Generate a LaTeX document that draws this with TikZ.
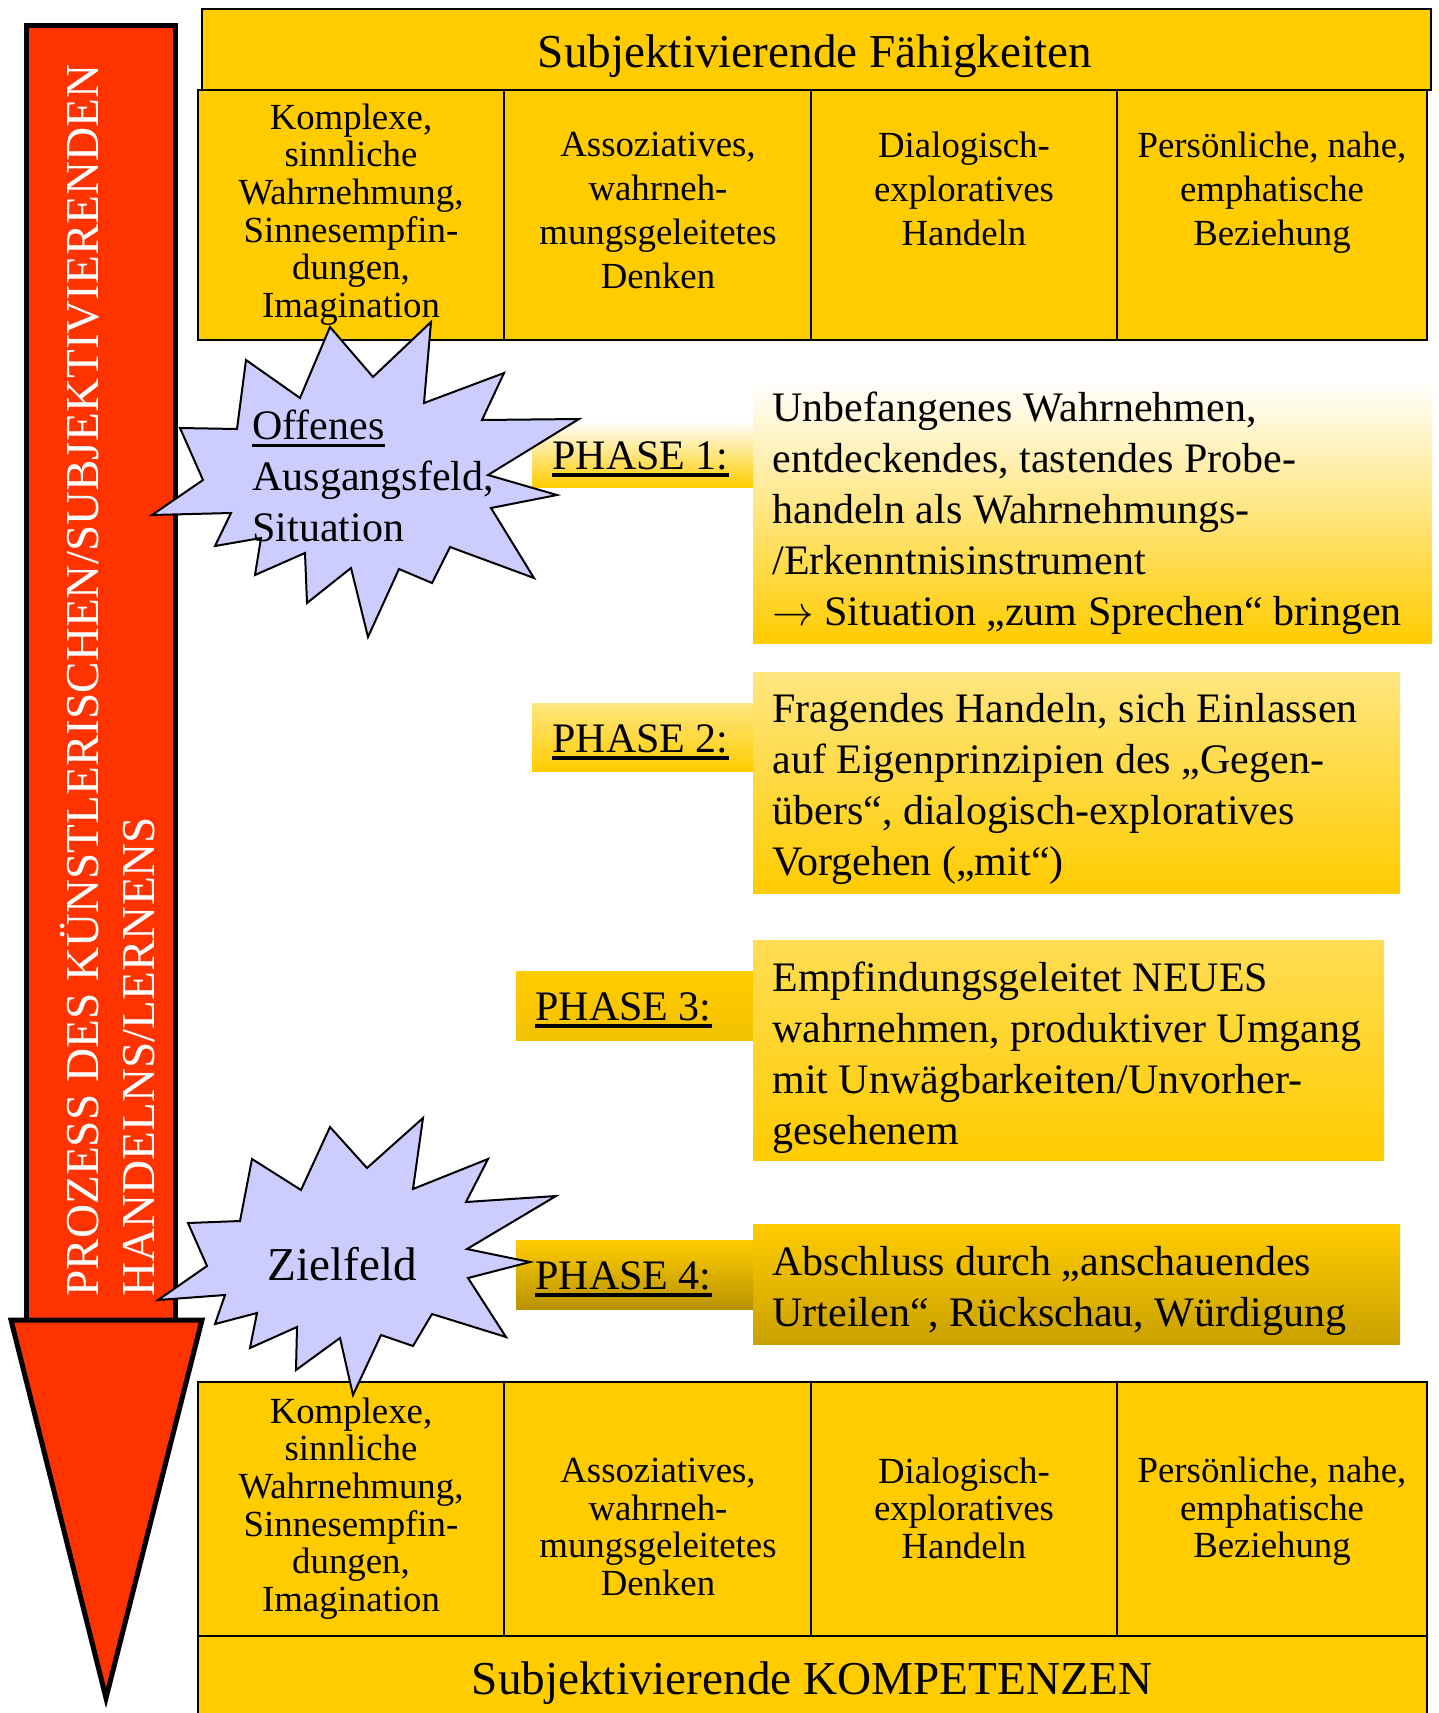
\documentclass[tikz,border=0pt]{standalone}
\usepackage{fontspec}
\setmainfont{Liberation Serif}
\definecolor{yel}{HTML}{FFCC00}
\definecolor{redA}{HTML}{FF3300}
\definecolor{lav}{HTML}{CCCCFF}
\definecolor{yelL}{HTML}{FFE680}
\definecolor{yelM}{HTML}{FFDD55}
\definecolor{yelD}{HTML}{F2C200}
\definecolor{gold}{HTML}{C9A100}
\definecolor{goldD}{HTML}{B89300}
\newcommand{\ulx}[1]{\leavevmode\setbox0\hbox{#1}\rlap{\vrule height -0.1em depth 0.18em width \wd0}\box0}
\begin{document}
\begin{tikzpicture}[x=0.5pt,y=-0.5pt,
  box/.style={draw=black, line width=1pt, fill=yel},
  sep/.style={draw=black, line width=1pt},
  cellA/.style={align=center, inner sep=0pt, font=\fontsize{18.4}{22}\selectfont},
  cellB/.style={align=center, inner sep=0pt, font=\fontsize{18.4}{18.8}\selectfont},
  head/.style={inner sep=0pt, font=\fontsize{23.6}{28}\selectfont},
  ptext/.style={align=left, inner sep=0pt, anchor=west, font=\fontsize{21}{25.5}\selectfont},
  plabel/.style={inner sep=0pt, anchor=west, font=\fontsize{21}{25.5}\selectfont},
  burst/.style={draw=black, line width=1pt, fill=lav, line join=miter},
  arrowbody/.style={draw=black, fill=redA, line width=2.5pt, line join=miter},
]
\useasboundingbox (0,0) rectangle (1439,1713);
\fill[white] (0,0) rectangle (1439,1713);

% process arrow
\draw[arrowbody] (26.5,25) rectangle (175.5,1320);
\draw[arrowbody] (11,1320) -- (202,1320) -- (106,1698) -- cycle;
\node[rotate=90, anchor=south west, align=left, inner sep=0pt, text=white,
      font=\fontsize{23.6}{28}\selectfont] (proc) at (155.5,1297)
  {PROZESS DES KÜNSTLERISCHEN/SUBJEKTIVIERENDEN\\HANDELNS/LERNENS};

% top table
\draw[box] (202,9) rectangle (1431,90);
\node[head] (tophead) at (815,56) {Subjektivierende Fähigkeiten};
\draw[box] (198,90) rectangle (1427,340);
\draw[sep] (504,90) -- (504,340) (811,90) -- (811,340) (1117,90) -- (1117,340);
\node[cellB] (t1) at (351,214.5) {Komplexe,\\sinnliche\\Wahrnehmung,\\Sinnesempfin-\\dungen,\\Imagination};
\node[cellA] (t2) at (658,210) {Assoziatives,\\wahrneh-\\mungsgeleitetes\\Denken};
\node[cellA] (t3) at (964,188.5) {Dialogisch-\\exploratives\\Handeln};
\node[cellA] (t4) at (1272,192.5) {Persönliche, nahe,\\emphatische\\Beziehung};

% bottom table
\draw[box] (198,1382) rectangle (1427,1636);
\draw[box] (198,1636) rectangle (1427,1720);
\draw[sep] (504,1382) -- (504,1636) (811,1382) -- (811,1636) (1117,1382) -- (1117,1636);
\node[cellB] (b1) at (351,1508.5) {Komplexe,\\sinnliche\\Wahrnehmung,\\Sinnesempfin-\\dungen,\\Imagination};
\node[cellB] (b2) at (658,1527) {Assoziatives,\\wahrneh-\\mungsgeleitetes\\Denken};
\node[cellB] (b3) at (964,1508) {Dialogisch-\\exploratives\\Handeln};
\node[cellB] (b4) at (1272,1511.5) {Persönliche, nahe,\\emphatische\\Beziehung};
\node[head] (bothead) at (812,1683.5) {Subjektivierende KOMPETENZEN};

% phase boxes
\shade[top color=white, bottom color=yel] (753,380) rectangle (1432,643);
\shade[top color=white, bottom color=yel] (532,421) rectangle (753,487);
\shade[top color=yelL, bottom color=yel] (753,672) rectangle (1400,893);
\shade[top color=yelL, bottom color=yel] (532,703) rectangle (753,771);
\shade[top color=yelM, bottom color=yel] (753,940) rectangle (1384,1160);
\shade[top color=yel, bottom color=yelD] (516,971) rectangle (753,1040);
\shade[top color=yel, bottom color=gold] (753,1224) rectangle (1400,1344);
\shade[top color=yel, bottom color=goldD] (516,1240) rectangle (753,1309);

% bursts
\draw[burst] (152,515) -- (203,480) -- (180,428) -- (237,429) -- (246,360) -- (300,398) -- (330,327) -- (373,377) -- (431,322) -- (424,403) -- (504,373) -- (482,420) -- (579,419) -- (488,475) -- (557,495) -- (491,508) -- (534,578) -- (450,547) -- (432,583) -- (399,569) -- (368,637) -- (351,568) -- (307,603) -- (305,553) -- (255,575) -- (261,538) -- (215,546) -- (231,513) -- cycle;
\draw[burst] (158,1300) -- (207,1266) -- (188,1223) -- (240,1221) -- (252,1159) -- (301,1190) -- (330,1127) -- (367,1168) -- (423,1118) -- (413,1189) -- (488,1159) -- (466,1202) -- (556,1196) -- (467,1249) -- (530,1262) -- (468,1278) -- (506,1337) -- (432,1314) -- (413,1346) -- (381,1335) -- (353,1395) -- (340,1338) -- (296,1370) -- (297,1327) -- (250,1348) -- (257,1313) -- (215,1324) -- (225,1295) -- cycle;

% texts
\node[ptext] (start) at (252,476) {\ulx{Offenes}\\Ausgangsfeld,\\Situation};
\node[head] (ziel) at (342,1264) {Zielfeld};

\node[plabel] (p1) at (552,459) {\ulx{PHASE 1:}};
\node[plabel] (p2) at (552,742) {\ulx{PHASE 2:}};
\node[plabel] (p3) at (535,1010) {\ulx{PHASE 3:}};
\node[plabel] (p4) at (535,1279) {\ulx{PHASE 4:}};

\node[ptext] (d1) at (772,513.5) {Unbefangenes Wahrnehmen,\\entdeckendes, tastendes Probe-\\handeln als Wahrnehmungs-\\/Erkenntnisinstrument\\$\rightarrow$ Situation „zum Sprechen“ bringen};
\node[ptext] (d2) at (772,788.5) {Fragendes Handeln, sich Einlassen\\auf Eigenprinzipien des „Gegen-\\übers“, dialogisch-exploratives\\Vorgehen („mit“)};
\node[ptext] (d3) at (772,1057.5) {Empfindungsgeleitet NEUES\\wahrnehmen, produktiver Umgang\\mit Unwägbarkeiten/Unvorher-\\gesehenem};
\node[ptext] (d4) at (772,1290.5) {Abschluss durch „anschauendes\\Urteilen“, Rückschau, Würdigung};
\end{tikzpicture}
\end{document}
